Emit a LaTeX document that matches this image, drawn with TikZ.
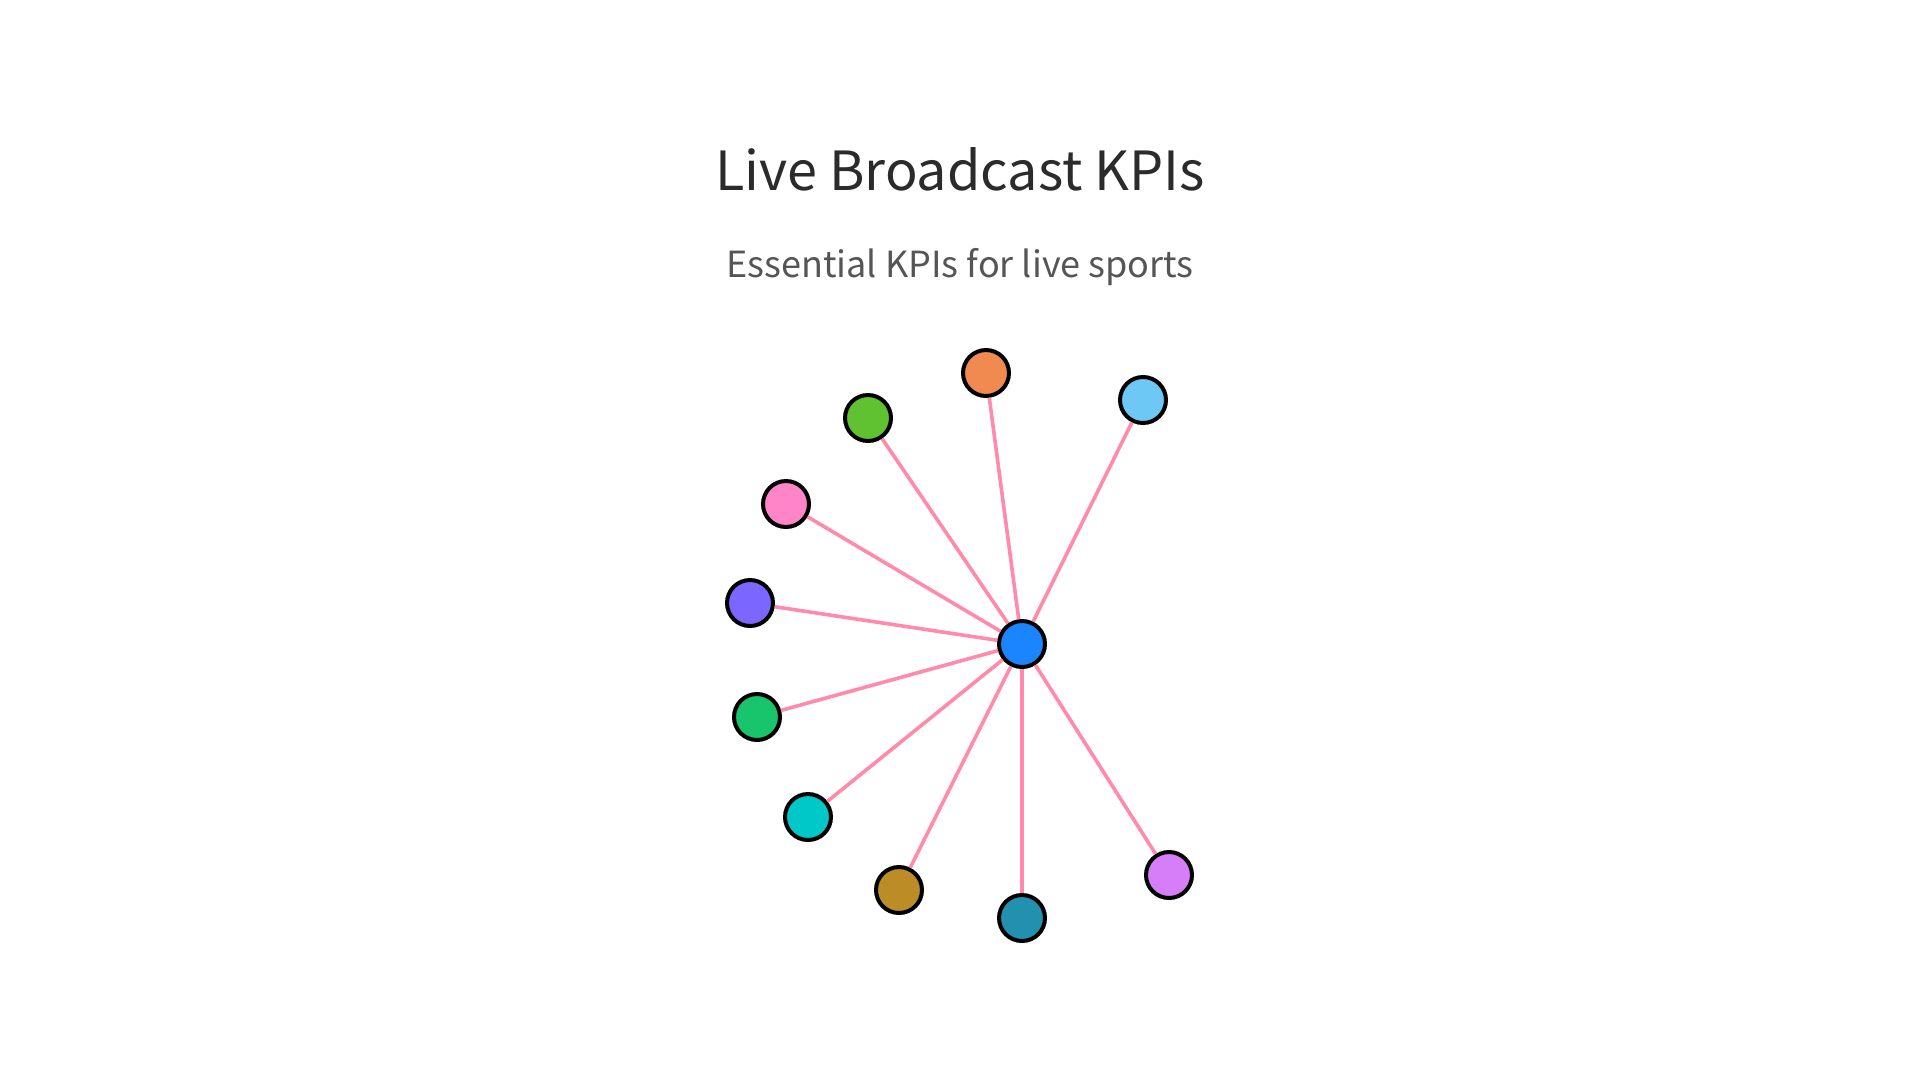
\documentclass[tikz,border=0pt]{standalone}
\usepackage{fontspec}
\newfontfamily\kpifont{Noto Sans CJK SC}
\definecolor{titlegray}{HTML}{2B2B2B}
\definecolor{subgray}{HTML}{555555}
\definecolor{linkpink}{HTML}{FF8AAA}
\definecolor{hubblue}{HTML}{1A85FF}
\definecolor{korange}{HTML}{F08A50}
\definecolor{ksky}{HTML}{6DC8F5}
\definecolor{kgreen}{HTML}{60C230}
\definecolor{kpink}{HTML}{FF85C8}
\definecolor{kpurple}{HTML}{7B66FF}
\definecolor{kemerald}{HTML}{18C46C}
\definecolor{kcyan}{HTML}{00C8C8}
\definecolor{kgold}{HTML}{BC8C26}
\definecolor{kteal}{HTML}{2490B0}
\definecolor{kviolet}{HTML}{D67EF8}
\tikzset{
  kpi/.style={circle,draw=black,line width=4pt,minimum size=46pt,inner sep=0pt,fill=#1},
  link/.style={linkpink,line width=3.6pt}
}

\begin{document}
\begin{tikzpicture}[x=1pt,y=-1pt]
\useasboundingbox (0,0) rectangle (1920,1080);
\node[anchor=base,text=titlegray,font=\kpifont\fontsize{54}{62}\selectfont] (title) at (960,190) {Live Broadcast KPIs};
\node[anchor=base,text=subgray,font=\kpifont\fontsize{36}{42}\selectfont] (subtitle) at (960,277) {Essential KPIs for live sports};

\node[kpi=hubblue]  (hub)     at (1022,644) {};
\node[kpi=korange]  (viewers) at (986,373)  {};
\node[kpi=ksky]     (latency) at (1143,400) {};
\node[kpi=kgreen]   (bitrate) at (868,418)  {};
\node[kpi=kpink]    (engage)  at (786,504)  {};
\node[kpi=kpurple]  (buffer)  at (750,603)  {};
\node[kpi=kemerald] (uptime)  at (757,717)  {};
\node[kpi=kcyan]    (errors)  at (808,817)  {};
\node[kpi=kgold]    (revenue) at (899,890)  {};
\node[kpi=kteal]    (retain)  at (1022,918) {};
\node[kpi=kviolet]  (social)  at (1169,875) {};

\draw[link]
  (hub) -- (viewers)
  (hub) -- (latency)
  (hub) -- (bitrate)
  (hub) -- (engage)
  (hub) -- (buffer)
  (hub) -- (uptime)
  (hub) -- (errors)
  (hub) -- (revenue)
  (hub) -- (retain)
  (hub) -- (social)
;
\end{tikzpicture}
\end{document}
